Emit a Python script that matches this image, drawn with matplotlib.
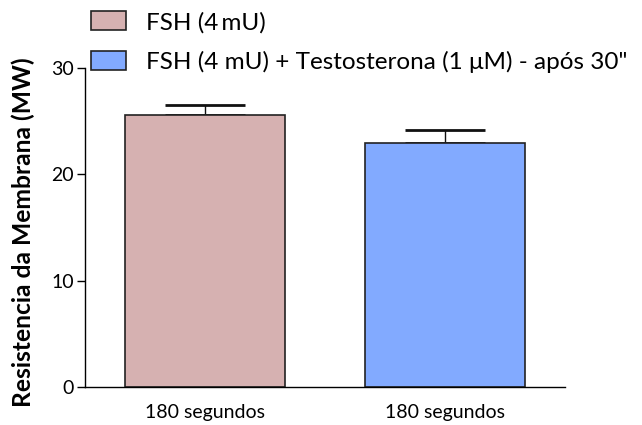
import matplotlib
matplotlib.use("Agg")
import matplotlib.pyplot as plt
from matplotlib.patches import Patch

categories = ["180 segundos", "180 segundos"]
series_labels = ["FSH (4\u2009mU)", "FSH (4 mU) + Testosterona (1 \u03bcM) - após 30\""]
values = [25.6, 22.9]
errors = [0.9, 1.3]
colors = ["#d6b1b1", "#82aaff"]
yticks = [0, 10, 20, 30]

plt.rcParams["font.family"] = ["Lato", "DejaVu Sans"]

fig = plt.figure(figsize=(6.42, 4.25), dpi=100)
ax = fig.add_axes([85 / 642, 1 - 387 / 425, 480 / 642, 319 / 425])

x = list(range(len(values)))
ax.bar(x, values, width=0.667, color=colors, edgecolor="#222222", linewidth=1.2, zorder=2)
ax.errorbar(x, values, yerr=[[0] * len(errors), errors], fmt="none", ecolor="#111111",
            elinewidth=1.0, capsize=29, capthick=2.0, zorder=1)

ax.set_xlim(-0.5, 1.5)
ax.set_ylim(0, 30)
ax.set_yticks(yticks)
ax.set_yticklabels([str(t) for t in yticks], fontsize=14)
ax.set_xticks(x)
ax.set_xticklabels(categories, fontsize=14)
ax.tick_params(axis="x", length=0, pad=12)
ax.tick_params(axis="y", length=6, width=1, pad=2)
for side in ["top", "right"]:
    ax.spines[side].set_visible(False)
ax.spines["left"].set_linewidth(1.0)
ax.spines["bottom"].set_linewidth(1.0)
ax.set_ylabel("Resistencia da Membrana (MW)", fontsize=17.7, fontweight="bold")
ax.yaxis.set_label_coords(-0.103, 0.485)

handles = [Patch(facecolor=c, edgecolor="#222222", linewidth=1.2) for c in colors]
fig.legend(handles, series_labels, loc="upper left", bbox_to_anchor=(74 / 642, 1.013),
           frameon=False, fontsize=17.5, handlelength=1.44, handleheight=0.82,
           handletextpad=0.82, labelspacing=0.72, borderaxespad=0.3)

fig.savefig("out.png", dpi=100)
